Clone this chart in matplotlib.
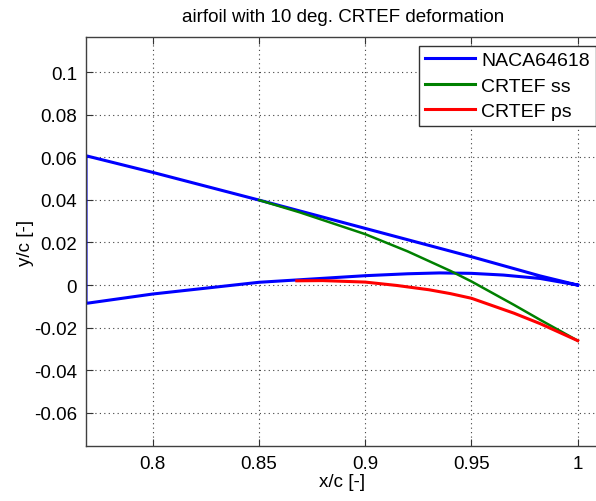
import matplotlib
matplotlib.use("Agg")
import matplotlib.pyplot as plt

# airfoil coordinates, trailing edge region
naca_upper_x = [0.7686, 0.80, 0.85, 0.90, 0.95, 0.9823, 1.00]
naca_upper_y = [0.0607, 0.0529, 0.0399, 0.0266, 0.0133, 0.0043, 0.0]
naca_lower_x = [0.7686, 0.80, 0.85, 0.90, 0.92, 0.935, 0.95, 0.965, 0.9823, 1.00]
naca_lower_y = [-0.0086, -0.0042, 0.0013, 0.0044, 0.0053, 0.0057, 0.0055, 0.0047, 0.0031, 0.0]

ss_x = [0.85, 0.8693, 0.90, 0.92, 0.94, 0.95, 0.97, 0.9823, 1.00]
ss_y = [0.0399, 0.0341, 0.0239, 0.0158, 0.0067, 0.0017, -0.0093, -0.0163, -0.0261]
ps_x = [0.8678, 0.88, 0.90, 0.915, 0.93, 0.94, 0.95, 0.97, 0.9823, 1.00]
ps_y = [0.0020, 0.0021, 0.0014, -0.0002, -0.0022, -0.0040, -0.0062, -0.0132, -0.0181, -0.0261]

xticks = [0.8, 0.85, 0.9, 0.95, 1.0]
yticks = [-0.06, -0.04, -0.02, 0, 0.02, 0.04, 0.06, 0.08, 0.1]

plt.rcParams['font.family'] = ['Liberation Sans', 'DejaVu Sans']
plt.rcParams['font.size'] = 13.5

W, H = 596, 502
fig = plt.figure(figsize=(W / 100, H / 100), dpi=100)
ax = fig.add_axes([86 / W, 1 - 446.7 / H, (606 - 86) / W, (446.7 - 38.3) / H])

# whole airfoil as one line: upper surface TE->LE, lower LE->TE
air_x = naca_upper_x[::-1] + naca_lower_x
air_y = naca_upper_y[::-1] + naca_lower_y
ax.plot(air_x, air_y, color=(0, 0, 1), lw=2.2, label='NACA64618')
ax.plot(ss_x, ss_y, color=(0, 0.5, 0), lw=1.8, label='CRTEF ss')
ax.plot(ps_x, ps_y, color=(1, 0, 0), lw=2.2, label='CRTEF ps')

ax.set_xlim(0.7686, 1.0 + (606 - 577.7) / 2125)
ax.set_ylim(-0.0754, 0.1163)
ax.set_xticks(xticks)
ax.set_xticklabels(['0.8', '0.85', '0.9', '0.95', '1'])
ax.set_yticks(yticks)
ax.set_yticklabels(['-0.06', '-0.04', '-0.02', '0', '0.02', '0.04', '0.06', '0.08', '0.1'])
ax.tick_params(direction='in', top=True, right=False, length=5, width=0.8,
               color='0.2', pad=6.5)
ax.grid(True, linestyle=(0, (1, 3)), color='0.25', lw=0.8)
for s in ax.spines.values():
    s.set_color('0.25')
    s.set_linewidth(1.0)
# the right side of the box lies outside the cropped picture
ax.spines['right'].set_visible(False)

fig.text(343 / W, 1 - 17 / H, 'airfoil with 10 deg. CRTEF deformation',
         ha='center', va='center', fontsize=13.5)
fig.text(342 / W, 1 - 483 / H, 'x/c [-]', ha='center', va='center', fontsize=13.5)
fig.text(25 / W, 1 - 243 / H, 'y/c [-]', ha='center', va='center',
         rotation=90, fontsize=13.5)

leg = fig.legend(loc='upper left', bbox_to_anchor=(419 / W, 1 - 46.7 / H),
                 fontsize=14, handlelength=2.6, handletextpad=0.3,
                 labelspacing=0.4, borderpad=0.3, borderaxespad=0,
                 fancybox=False, framealpha=1)
leg.get_frame().set_edgecolor('0.2')
leg.get_frame().set_linewidth(1.0)
for l in leg.get_lines():
    l.set_linewidth(2.2)

fig.savefig('out.png', dpi=100)
